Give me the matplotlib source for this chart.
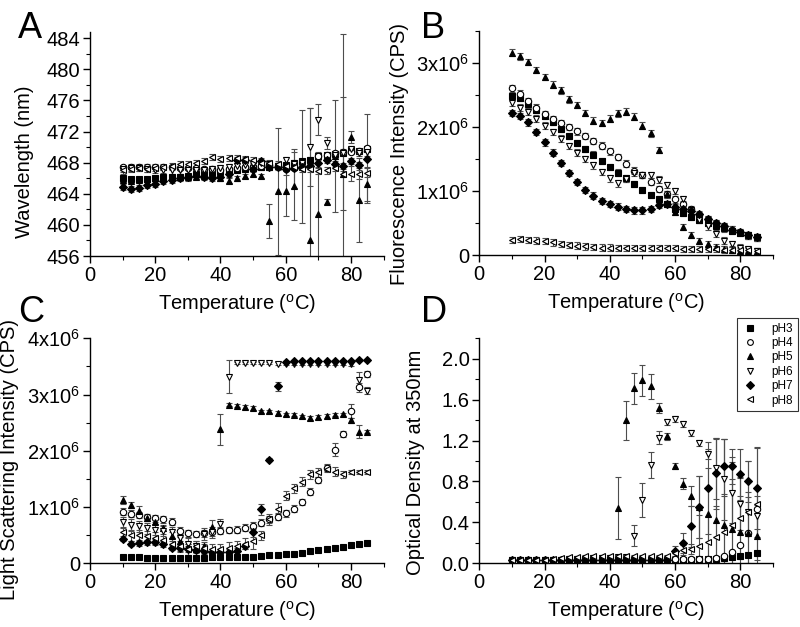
import numpy as np
import matplotlib
matplotlib.use("Agg")
import matplotlib.pyplot as plt
from matplotlib.ticker import MultipleLocator, FuncFormatter

plt.rcParams['font.family'] = ['Liberation Sans', 'DejaVu Sans']
plt.rcParams['mathtext.default'] = 'regular'

# ---------------- data ----------------
temperature = [10, 12.5, 15, 17.5, 20, 22.5, 25, 27.5, 30, 32.5, 35, 37.5, 40, 42.5, 45, 47.5,
               50, 52.5, 55, 57.5, 60, 62.5, 65, 67.5, 70, 72.5, 75, 77.5, 80, 82.5, 85]
series_labels = ['pH3', 'pH4', 'pH5', 'pH6', 'pH7', 'pH8']

# Panel A: emission wavelength (nm)
wl_ph3 = [466.0, 465.9, 465.9, 465.9, 466.0, 466.1, 466.1, 466.2, 466.3, 466.5, 466.6, 466.7, 466.8, 466.9, 467.1, 467.2,
          467.3, 467.4, 467.5, 467.6, 467.7, 468.0, 468.2, 468.4, 468.9, 469.0, 469.1, 469.3, 469.6, 469.5, 469.8]
wl_ph4 = [467.4, 467.5, 467.5, 467.5, 467.5, 467.4, 467.4, 467.3, 467.3, 467.3, 467.2, 467.2, 467.1, 467.2, 467.3, 467.4,
          467.5, 467.6, 467.7, 467.6, 467.2, 467.3, 467.5, 467.6, 468.8, 469.0, 469.2, 469.4, 469.4, 469.5, 469.9]
wl_ph5 = [465.8, 465.7, 465.8, 465.9, 466.0, 466.0, 466.1, 466.1, 466.2, 466.2, 466.3, 466.4, 466.0, 465.7, 466.0, 466.3,
          466.6, 466.3, 460.5, 464.3, 464.3, 465.0, 467.5, 458.0, 461.4, 463.0, 468.8, 466.5, 471.3, 463.2, 465.3]
wl_ph6 = [467.2, 467.3, 467.3, 467.2, 467.1, 467.1, 467.0, 467.0, 467.0, 467.1, 467.1, 467.2, 467.3, 467.4, 467.6, 467.7,
          467.8, 467.9, 467.8, 467.6, 468.3, 467.8, 468.0, 470.0, 473.5, 470.5, 469.0, 469.2, 469.7, 469.3, 469.4]
wl_ph7 = [464.9, 464.6, 464.7, 465.1, 465.3, 465.6, 465.8, 466.0, 466.1, 466.3, 466.2, 466.0, 466.2, 466.6, 468.3, 468.3,
          467.2, 468.2, 467.4, 467.5, 467.2, 467.3, 467.5, 467.6, 467.9, 468.3, 467.8, 467.6, 468.2, 467.7, 468.5]
wl_ph8 = [467.0, 467.2, 467.3, 467.2, 467.3, 467.4, 467.6, 467.8, 467.8, 468.0, 468.2, 468.7, 468.5, 468.6, 468.6, 468.5,
          468.3, 468.0, 467.9, 467.8, 467.6, 467.5, 467.2, 467.2, 466.9, 467.0, 467.3, 466.5, 466.6, 466.5, 466.7]
wl_err_ph3 = [0.3] * 31
wl_err_ph4 = [0.3] * 31
wl_err_ph5 = [0.3] * 18 + [2.2, 8.2, 3.2, 4.4, 7.3, 17.0, 8.0, 0.3, 7.2, 18.0, 0.8, 5.4, 2.2]
wl_err_ph6 = [0.4] * 23 + [5.0, 2.0, 0.8, 0.5, 7.3, 0.5, 0.5, 0.5]
wl_err_ph7 = [0.4] * 20 + [0.8, 2.5, 0.4, 0.4, 0.4, 0.4, 0.4, 0.4, 0.4, 0.4, 5.7]
wl_err_ph8 = [0.4] * 28 + [1.0, 0.6, 0.6]

# Panel B: fluorescence intensity (x10^6 CPS)
fl_ph3 = [2.48, 2.45, 2.35, 2.27, 2.17, 2.08, 1.97, 1.86, 1.75, 1.66, 1.57, 1.47, 1.38, 1.29, 1.20, 1.11,
          1.02, 0.94, 0.87, 0.80, 0.72, 0.66, 0.60, 0.55, 0.50, 0.45, 0.42, 0.38, 0.35, 0.31, 0.28]
fl_ph4 = [2.60, 2.52, 2.40, 2.30, 2.20, 2.12, 2.06, 2.00, 1.93, 1.86, 1.78, 1.71, 1.62, 1.53, 1.43, 1.32,
          1.25, 1.15, 1.03, 0.95, 0.87, 0.80, 0.72, 0.63, 0.56, 0.50, 0.45, 0.40, 0.36, 0.31, 0.28]
fl_ph5 = [3.16, 3.10, 3.01, 2.89, 2.78, 2.66, 2.57, 2.43, 2.34, 2.22, 2.10, 2.06, 2.13, 2.21, 2.24, 2.16,
          2.02, 1.90, 1.64, 0.95, 0.68, 0.44, 0.32, 0.22, 0.17, 0.13, 0.10, 0.08, 0.07, 0.06, 0.06]
fl_ph6 = [2.38, 2.30, 2.24, 2.13, 2.02, 1.92, 1.82, 1.70, 1.60, 1.50, 1.40, 1.30, 1.20, 1.12, 1.19, 1.28,
          1.25, 1.25, 1.18, 1.10, 1.00, 0.88, 0.70, 0.55, 0.45, 0.33, 0.23, 0.18, 0.12, 0.10, 0.07]
fl_ph7 = [2.22, 2.17, 2.07, 1.92, 1.76, 1.60, 1.44, 1.28, 1.14, 1.02, 0.93, 0.85, 0.80, 0.76, 0.72, 0.70,
          0.70, 0.72, 0.78, 0.80, 0.75, 0.72, 0.69, 0.64, 0.57, 0.50, 0.45, 0.40, 0.36, 0.31, 0.28]
fl_ph8 = [0.24, 0.25, 0.24, 0.23, 0.22, 0.20, 0.18, 0.16, 0.15, 0.14, 0.13, 0.12, 0.12, 0.11, 0.11, 0.11,
          0.11, 0.11, 0.11, 0.11, 0.11, 0.10, 0.10, 0.10, 0.10, 0.10, 0.09, 0.09, 0.08, 0.08, 0.07]
fl_err = [0.05] * 31

# Panel C: light scattering intensity (x10^6 CPS)
ls_ph3 = [0.11, 0.12, 0.11, 0.10, 0.10, 0.10, 0.10, 0.10, 0.10, 0.10, 0.10, 0.11, 0.11, 0.11, 0.11, 0.12,
          0.12, 0.13, 0.14, 0.15, 0.16, 0.17, 0.19, 0.21, 0.23, 0.25, 0.27, 0.29, 0.33, 0.35, 0.36]
ls_ph4 = [0.92, 0.88, 0.86, 0.82, 0.80, 0.78, 0.74, 0.58, 0.53, 0.52, 0.53, 0.55, 0.58, 0.59, 0.60, 0.63,
          0.67, 0.72, 0.78, 0.83, 0.89, 0.97, 1.09, 1.27, 1.48, 1.70, 2.02, 2.30, 2.71, 3.13, 3.37]
ls_ph5 = [1.12, 1.04, 0.93, 0.80, 0.74, 0.62, 0.48, 0.40, 0.30, 0.25, 0.30, 0.65, 2.38, 2.82, 2.80, 2.78,
          2.76, 2.70, 2.70, 2.67, 2.65, 2.64, 2.61, 2.58, 2.60, 2.62, 2.64, 2.65, 2.54, 2.34, 2.34]
ls_ph6 = [0.73, 0.68, 0.66, 0.62, 0.60, 0.58, 0.55, 0.45, 0.35, 0.30, 0.52, 0.55, 0.70, 3.32, 3.56, 3.56,
          3.56, 3.56, 3.56, 3.55, 3.55, 3.55, 3.55, 3.55, 3.55, 3.55, 3.55, 3.55, 3.54, 3.25, 3.07]
ls_ph7 = [0.44, 0.35, 0.36, 0.37, 0.38, 0.34, 0.28, 0.27, 0.25, 0.24, 0.22, 0.20, 0.20, 0.20, 0.22, 0.30,
          0.55, 0.96, 1.84, 3.15, 3.58, 3.59, 3.59, 3.59, 3.60, 3.60, 3.60, 3.60, 3.60, 3.61, 3.61]
ls_ph8 = [0.55, 0.50, 0.50, 0.48, 0.45, 0.42, 0.35, 0.30, 0.25, 0.30, 0.28, 0.25, 0.25, 0.28, 0.30, 0.35,
          0.40, 0.50, 0.78, 0.97, 1.20, 1.33, 1.45, 1.58, 1.62, 1.68, 1.63, 1.58, 1.62, 1.62, 1.62]
ls_err_ph3 = [0.02] * 31
ls_err_ph4 = [0.06] * 26 + [0.12, 0.05, 0.12, 0.08, 0.05]
ls_err_ph5 = [0.07, 0.05, 0.09, 0.05, 0.05, 0.05, 0.08, 0.06, 0.05, 0.05, 0.05, 0.12, 0.28, 0.03, 0.03, 0.03,
              0.03, 0.03, 0.03, 0.03, 0.03, 0.03, 0.03, 0.03, 0.03, 0.03, 0.03, 0.03, 0.05, 0.12, 0.03]
ls_err_ph6 = [0.1, 0.1, 0.1, 0.1, 0.1, 0.1, 0.1, 0.1, 0.1, 0.1, 0.1, 0.1, 0.08, 0.30, 0.02, 0.02,
              0.02, 0.02, 0.02, 0.02, 0.02, 0.02, 0.02, 0.02, 0.02, 0.02, 0.02, 0.02, 0.03, 0.15, 0.06]
ls_err_ph7 = [0.05] * 16 + [0.08, 0.10, 0.03, 0.08] + [0.02] * 11
ls_err_ph8 = [0.1] * 16 + [0.15, 0.08, 0.1, 0.1, 0.08, 0.08, 0.08, 0.08, 0.08, 0.06, 0.08, 0.06, 0.04, 0.04, 0.03]

# Panel D: optical density at 350 nm
od_ph3 = [0.03] * 23 + [0.04, 0.04, 0.04, 0.05, 0.06, 0.07, 0.08, 0.10]
od_ph4 = [0.03] * 19 + [0.04, 0.04, 0.04, 0.04, 0.04, 0.04, 0.05, 0.07, 0.11, 0.18, 0.30, 0.53]
od_ph5 = [0.03] * 13 + [0.54, 1.40, 1.71, 1.79, 1.73, 1.52, 1.24, 0.95, 0.78, 0.66, 0.55, 0.48, 0.42, 0.37,
                        0.34, 0.31, 0.30, 0.27]
od_ph6 = [0.03, 0.03, 0.03, 0.03, 0.03, 0.03, 0.03, 0.04, 0.04, 0.04, 0.05, 0.05, 0.05, 0.06, 0.06,
          0.27, 0.62, 0.96, 1.23, 1.38, 1.41, 1.36, 1.27, 1.18, 1.07, 0.93, 0.82, 0.69, 0.58, 0.50, 0.46]
od_ph7 = [0.03] * 20 + [0.12, 0.20, 0.36, 0.55, 0.74, 0.88, 0.95, 0.95, 0.87, 0.80, 0.74]
od_ph8 = [0.03, 0.03, 0.03, 0.03, 0.03, 0.04, 0.05, 0.06, 0.06, 0.07, 0.07, 0.07, 0.07, 0.07, 0.07, 0.07,
          0.07, 0.07, 0.07, 0.07, 0.10, 0.13, 0.14, 0.17, 0.21, 0.26, 0.31, 0.37, 0.44, 0.50, 0.58]
od_err_ph3 = [0.01] * 31
od_err_ph4 = [0.01] * 31
od_err_ph5 = [0.01] * 13 + [0.30, 0.19, 0.15, 0.15, 0.12, 0.05, 0.03, 0.03, 0.05, 0.10, 0.30, 0.45, 0.80,
                            0.85, 0.70, 0.35, 0.35, 0.30]
od_err_ph6 = [0.01] * 15 + [0.10, 0.17, 0.13, 0.06, 0.03, 0.03, 0.03, 0.03, 0.03, 0.05, 0.30, 0.40, 0.30,
                            0.25, 0.20, 0.20]
od_err_ph7 = [0.01] * 20 + [0.05, 0.10, 0.20, 0.30, 0.45, 0.35, 0.27, 0.17, 0.25, 0.20, 0.40]
od_err_ph8 = [0.01] * 20 + [0.03, 0.05, 0.05, 0.30, 0.25, 0.30, 0.35, 0.45, 0.40, 0.50, 0.55]

MEGA = 1e6

# ---------------- styling ----------------
marker_styles = [
    dict(marker='s', mfc='black', ms=4.3),
    dict(marker='o', mfc='white', ms=4.6),
    dict(marker='^', mfc='black', ms=5.0),
    dict(marker='v', mfc='white', ms=5.0),
    dict(marker='D', mfc='black', ms=4.0),
    dict(marker='<', mfc='white', ms=5.0),
]

fig = plt.figure(figsize=(8.0, 6.27), dpi=100)
W, H = 800.0, 627.0


def make_ax(left, right, top, bottom):
    return fig.add_axes([left / W, 1 - bottom / H, (right - left) / W, (bottom - top) / H])


axA = make_ax(90, 383.6, 32, 256)
axB = make_ax(479.3, 772.9, 30.7, 255.3)
axC = make_ax(90, 383.6, 338.3, 563.3)
axD = make_ax(479.3, 772.9, 338.3, 563.3)


def draw(ax, ys, errs, scale=1.0):
    handles = []
    for y, e, st in zip(ys, errs, marker_styles):
        y = np.asarray(y, float) * scale
        e = np.asarray(e, float) * scale
        ax.errorbar(temperature, y, yerr=e, fmt='none', ecolor='0.3', elinewidth=0.8,
                    capsize=2.2, capthick=0.8, zorder=2)
        h, = ax.plot(temperature, y, linestyle='none', mec='black', mew=0.8, zorder=3, **st)
        handles.append(h)
    return handles


draw(axA, [wl_ph3, wl_ph4, wl_ph5, wl_ph6, wl_ph7, wl_ph8],
     [wl_err_ph3, wl_err_ph4, wl_err_ph5, wl_err_ph6, wl_err_ph7, wl_err_ph8])
draw(axB, [fl_ph3, fl_ph4, fl_ph5, fl_ph6, fl_ph7, fl_ph8], [fl_err] * 6, MEGA)
draw(axC, [ls_ph3, ls_ph4, ls_ph5, ls_ph6, ls_ph7, ls_ph8],
     [ls_err_ph3, ls_err_ph4, ls_err_ph5, ls_err_ph6, ls_err_ph7, ls_err_ph8], MEGA)
hD = draw(axD, [od_ph3, od_ph4, od_ph5, od_ph6, od_ph7, od_ph8],
          [od_err_ph3, od_err_ph4, od_err_ph5, od_err_ph6, od_err_ph7, od_err_ph8])

mega_fmt = FuncFormatter(lambda v, p: '0' if abs(v) < 1 else '%dx10$^{6}$' % round(v / MEGA))

FS = 14.5
for ax in (axA, axB, axC, axD):
    ax.set_xlim(0, 90)
    ax.xaxis.set_major_locator(MultipleLocator(20))
    ax.xaxis.set_minor_locator(MultipleLocator(10))
    ax.spines['top'].set_visible(False)
    ax.spines['right'].set_visible(False)
    for s in ('left', 'bottom'):
        ax.spines[s].set_linewidth(1.0)
    ax.tick_params(which='major', direction='out', length=5, width=1.0, labelsize=FS, pad=2)
    ax.tick_params(which='minor', direction='out', length=3, width=0.8)
    ax.set_xlabel('Temperature ($^{o}$C)', fontsize=FS)

axA.set_ylim(456, 484.8)
axA.yaxis.set_major_locator(MultipleLocator(4))
axA.yaxis.set_minor_locator(MultipleLocator(2))
axA.set_ylabel('Wavelength (nm)', fontsize=FS)

axB.set_ylim(0, 3.5e6)
axB.yaxis.set_major_locator(MultipleLocator(1e6))
axB.yaxis.set_minor_locator(MultipleLocator(0.5e6))
axB.yaxis.set_major_formatter(mega_fmt)
axB.set_ylabel('Fluorescence Intensity (CPS)', fontsize=FS)

axC.set_ylim(0, 4e6)
axC.yaxis.set_major_locator(MultipleLocator(1e6))
axC.yaxis.set_minor_locator(MultipleLocator(0.5e6))
axC.yaxis.set_major_formatter(mega_fmt)
axC.set_ylabel('Light Scattering Intensity (CPS)', fontsize=FS)

axD.set_ylim(0, 2.2)
axD.yaxis.set_major_locator(MultipleLocator(0.4))
axD.yaxis.set_minor_locator(MultipleLocator(0.2))
axD.yaxis.set_major_formatter(FuncFormatter(lambda v, p: '%.1f' % v))
axD.set_ylabel('Optical Density at 350nm', fontsize=FS)

# label positions (axes coords)
axA.yaxis.set_label_coords(-0.19, 0.42)
axB.yaxis.set_label_coords(-0.24, 0.45)
axC.yaxis.set_label_coords(-0.243, 0.46)
axD.yaxis.set_label_coords(-0.185, 0.45)
for ax in (axA, axB, axC, axD):
    ax.xaxis.set_label_coords(0.5, -0.16)

leg = axD.legend(hD, series_labels, loc='upper right', bbox_to_anchor=(798 / W, 1 - 318 / H),
                 bbox_transform=fig.transFigure, borderaxespad=0, fontsize=8.5, frameon=True,
                 fancybox=False, handlelength=1.4, handletextpad=1.1, labelspacing=0.2,
                 borderpad=0.4, markerscale=0.9)
leg.get_frame().set_edgecolor('black')
leg.get_frame().set_linewidth(0.8)

for txt, x, y in (('A', 18, 38), ('B', 421, 38), ('C', 18, 322), ('D', 421, 322)):
    fig.text(x / W, 1 - y / H, txt, fontsize=26, ha='left', va='baseline')

fig.savefig('out.png', dpi=100)
